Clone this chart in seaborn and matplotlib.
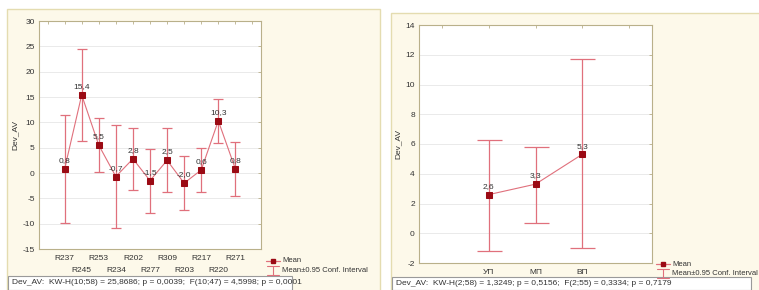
import numpy as np
import seaborn as sns
from matplotlib import pyplot as plt
from matplotlib.lines import Line2D
from matplotlib.patches import Rectangle

# left panel: groups by R-code
left_cats = ["R237", "R245", "R253", "R234", "R202", "R277", "R309", "R203", "R217", "R220", "R271"]
left_mean = [0.8, 15.4, 5.5, -0.7, 2.8, -1.5, 2.5, -2.0, 0.6, 10.3, 0.8]
left_hi = [11.4, 24.4, 10.9, 9.4, 8.9, 4.8, 8.8, 3.4, 5.0, 14.7, 6.1]
left_lo = [-9.9, 6.4, 0.2, -10.8, -3.3, -7.9, -3.8, -7.4, -3.7, 5.9, -4.6]
left_stats = "Dev_AV:  KW-H(10;58) = 25,8686; p = 0,0039;  F(10;47) = 4,5998; p = 0,0001"

# right panel: three groups
right_cats = ["УП", "МП", "ВП"]
right_mean = [2.6, 3.3, 5.3]
right_hi = [6.3, 5.8, 11.7]
right_lo = [-1.2, 0.7, -1.0]
right_stats = "Dev_AV:  KW-H(2;58) = 1,3249; p = 0,5156;  F(2;55) = 0,3334; p = 0,7179"

sns.set_style("white")
plt.rcParams["font.family"] = ["Liberation Sans", "DejaVu Sans"]
plt.rcParams["axes.unicode_minus"] = False

W, H = 759, 290
fig = plt.figure(figsize=(W / 100, H / 100), dpi=100)

MARK = "#9b0a14"
LINE = "#e0707c"
FRAME_BG = "#fdf9ea"
FRAME_EDGE = "#e4dcb0"
SPINE = "#b9b08a"
TXT = "#333333"


def px(x0, y0, x1, y1):
    return [x0 / W, 1 - y1 / H, (x1 - x0) / W, (y1 - y0) / H]


def frame(x0, y0, x1, y1):
    l, b, w, h = px(x0, y0, x1, y1)
    fig.patches.append(Rectangle((l, b), w, h, transform=fig.transFigure,
                                 facecolor=FRAME_BG, edgecolor=FRAME_EDGE, lw=1.0, zorder=-5))


def panel(rect, cats, mean, lo, hi, ylim, ystep, capsize, stagger, ylab_x, stats_box, stats, legend_xy):
    ax = fig.add_axes(px(*rect))
    ax.set_facecolor("white")
    idx = np.arange(len(cats))
    mean = np.array(mean)
    yerr = [mean - np.array(lo), np.array(hi) - mean]
    ax.errorbar(idx, mean, yerr=yerr, fmt="none", ecolor=LINE, elinewidth=0.9,
                capsize=capsize, capthick=0.9, zorder=2)
    sns.lineplot(x=idx, y=mean, ax=ax, color=LINE, lw=0.8, marker="s", markersize=4,
                 markerfacecolor=MARK, markeredgecolor=MARK, zorder=3)
    for i, m in zip(idx, mean):
        ax.annotate(f"{m:.1f}".replace(".", ","), (i, m), xytext=(0, 3.5),
                    textcoords="offset points", ha="center", va="bottom",
                    fontsize=6, color=TXT, zorder=4)
    ax.set_xlim(-1.5, len(cats) + 0.5)
    ax.set_ylim(*ylim)
    ax.set_yticks(np.arange(ylim[0], ylim[1] + 0.01, ystep))
    n = len(cats)
    if stagger:
        major = [-1] + list(range(0, n, 2)) + [n]
        minor = list(range(1, n, 2))
        ax.set_xticks(major)
        ax.set_xticklabels([""] + [cats[i] for i in range(0, n, 2)] + [""])
        ax.set_xticks(minor, minor=True)
        ax.set_xticklabels([cats[i] for i in minor], minor=True)
    else:
        ax.set_xticks(list(range(-1, n + 1)))
        ax.set_xticklabels([""] + cats + [""])
    ax.tick_params(axis="both", which="both", direction="in", length=2, width=0.6, color=SPINE,
                   labelsize=6, labelcolor=TXT, top=True, right=True, pad=3)
    ax.tick_params(axis="x", which="major", pad=4)
    ax.tick_params(axis="x", which="minor", pad=13)
    ax.grid(axis="y", color="#e6e6e6", lw=0.6)
    for s in ax.spines.values():
        s.set_color(SPINE)
        s.set_linewidth(0.8)
    ax.set_xlabel("")
    ax.set_ylabel("")
    fig.text(ylab_x / W, 1 - (rect[1] + rect[3]) / 2 / H, "Dev_AV", rotation=90,
             ha="center", va="center", fontsize=6, color=TXT)

    # stats box
    bx0, by0, bx1, by1 = stats_box
    fig.text((bx0 + 4) / W, 1 - (by0 + by1) / 2 / H, stats, ha="left", va="center",
             fontsize=6, color=TXT, zorder=5)
    l, b, w, h = px(*stats_box)
    fig.patches.append(Rectangle((l, b), w, h, transform=fig.transFigure,
                                 facecolor="white", edgecolor="#9a9a9a", lw=0.8, zorder=1))

    # legend
    lx, ly = legend_xy
    fig.lines.append(Line2D([(lx - 7) / W, (lx + 7) / W], [1 - ly / H] * 2, color=LINE, lw=0.9,
                            transform=fig.transFigure))
    fig.lines.append(Line2D([lx / W], [1 - ly / H], color=MARK, marker="s", markersize=3,
                            lw=0, transform=fig.transFigure))
    ey0, ey1 = ly + 5, ly + 14
    fig.lines.append(Line2D([lx / W] * 2, [1 - ey0 / H, 1 - ey1 / H], color=LINE, lw=0.8,
                            transform=fig.transFigure))
    for yy in (ey0, ey1):
        fig.lines.append(Line2D([(lx - 6) / W, (lx + 6) / W], [1 - yy / H] * 2, color=LINE,
                                lw=0.8, transform=fig.transFigure))
    fig.text((lx + 9) / W, 1 - ly / H, "Mean", fontsize=5.5, color=TXT, va="center")
    fig.text((lx + 9) / W, 1 - (ly + 9.5) / H, "Mean±0.95 Conf. Interval",
             fontsize=5.5, color=TXT, va="center")
    return ax


frame(7, 9, 380, 292)
frame(391, 13, 761, 292)

panel((39, 21, 261, 249), left_cats, left_mean, left_lo, left_hi, (-15, 30), 5, 3.6, True,
      15, (8, 276, 292, 290), left_stats, (273, 261))
panel((419, 25, 652, 263), right_cats, right_mean, right_lo, right_hi, (-2, 14), 2, 9.0, False,
      398, (392, 277, 751, 290), right_stats, (663, 264))

fig.savefig("out.png", dpi=100)
